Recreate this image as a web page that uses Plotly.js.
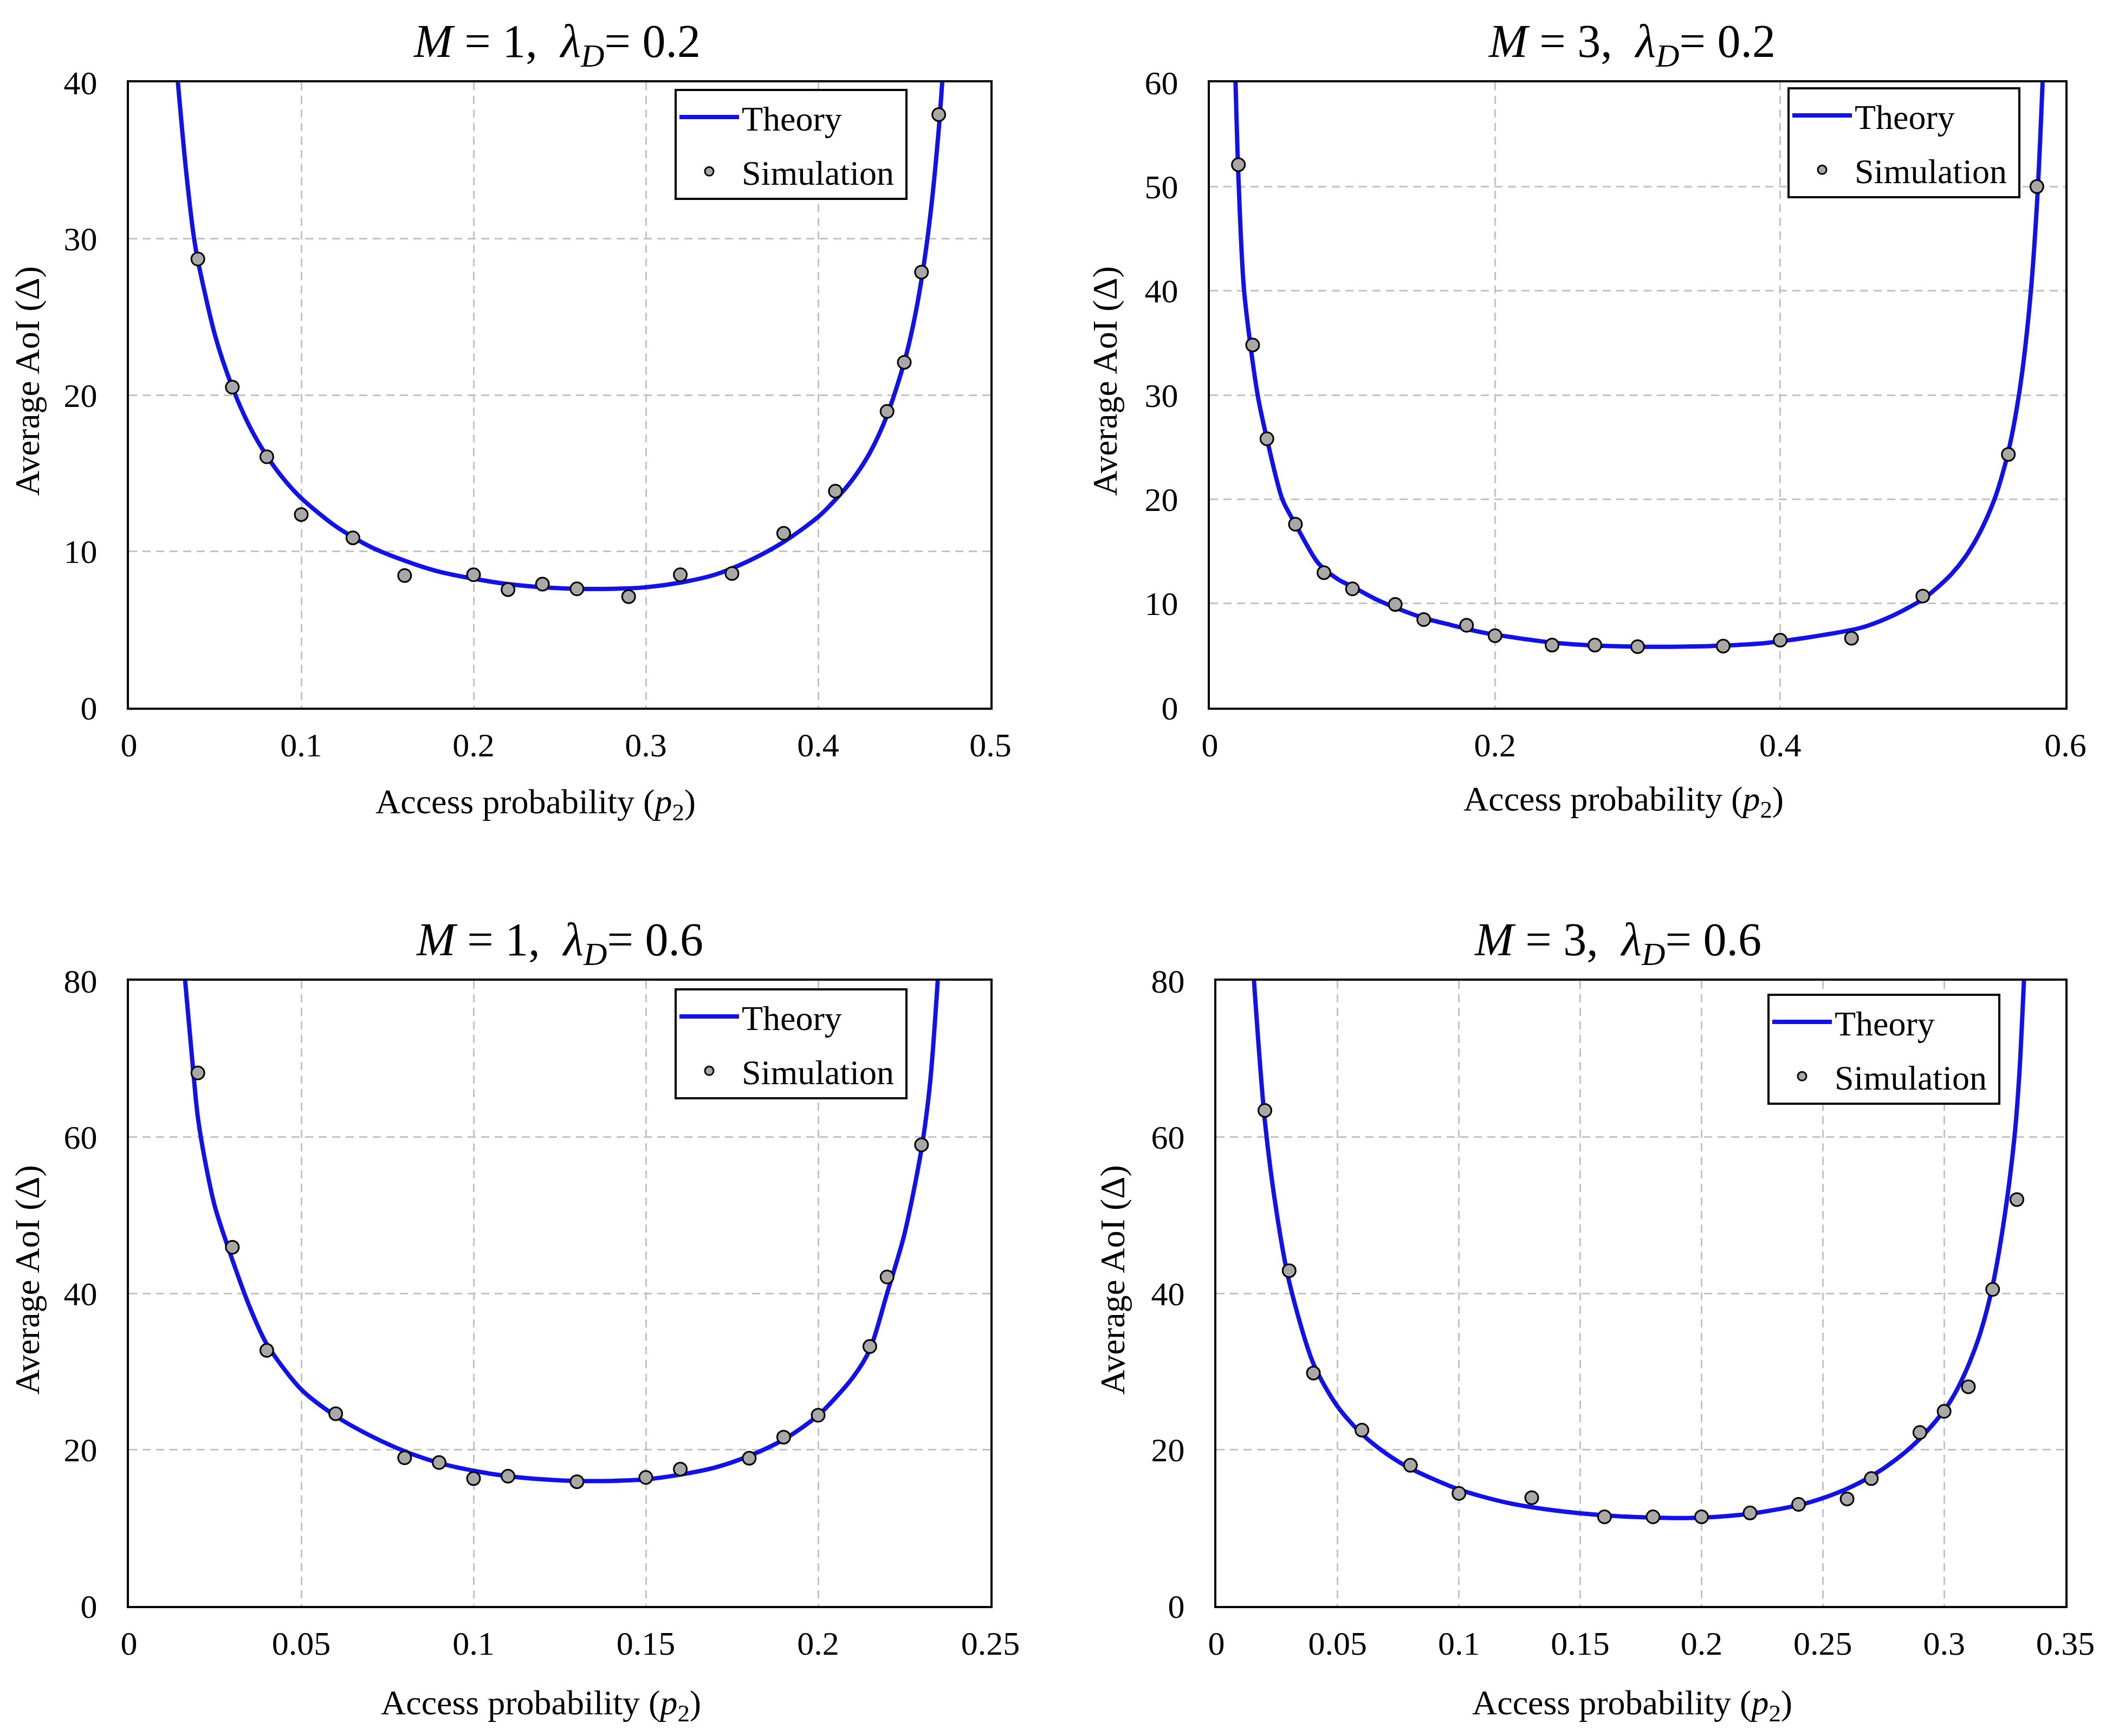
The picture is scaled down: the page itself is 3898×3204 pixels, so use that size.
<!DOCTYPE html>
<html><head><meta charset="utf-8">
<script src="https://cdn.plot.ly/plotly-3.0.1.min.js"></script>
<style>html,body{margin:0;padding:0;background:#fff}</style>
</head><body><div id="chart" style="width:3898px;height:3204px"></div>
<script>
// ---------- Data ----------
// Panel A: M = 1, lambda_D = 0.2
const theoryA_x = [0.0284,0.0331,0.0378,0.04,0.05,0.06,0.07,0.08,0.09,0.10,0.12,0.14,0.16,0.18,0.20,0.22,0.24,0.26,0.28,0.30,0.32,0.34,0.36,0.38,0.40,0.41,0.42,0.43,0.44,0.45,0.455,0.46,0.465,0.47,0.472];
const theoryA_y = [40,34.4,30,28.6,23.8,20.5,18.0,16.1,14.6,13.4,11.6,10.3,9.4,8.7,8.25,7.9,7.7,7.6,7.6,7.7,8.0,8.5,9.4,10.6,12.2,13.3,14.6,16.3,18.7,22.1,24.4,27.4,31.4,37.0,40];
const simA_x = [0.04,0.06,0.08,0.10,0.13,0.16,0.20,0.22,0.24,0.26,0.29,0.32,0.35,0.38,0.41,0.44,0.45,0.46,0.47];
const simA_y = [28.7,20.5,16.05,12.35,10.86,8.45,8.5,7.55,7.9,7.6,7.1,8.5,8.58,11.15,13.85,18.95,22.09,27.86,37.94];

// Panel B: M = 3, lambda_D = 0.2
const theoryB_x = [0.018,0.02,0.024,0.0335,0.04,0.0508,0.06,0.0761,0.09,0.10,0.115,0.13,0.15,0.17,0.19,0.21,0.24,0.27,0.30,0.33,0.36,0.39,0.42,0.45,0.46,0.48,0.50,0.51,0.52,0.53,0.54,0.55,0.555,0.56,0.565,0.57,0.5758,0.5805,0.584];
const theoryB_y = [60,51,40,30,25.8,20,17.6,13.85,12.3,11.6,10.5,9.6,8.6,7.9,7.25,6.8,6.25,5.95,5.85,5.85,5.95,6.2,6.75,7.45,7.8,8.9,10.4,11.5,12.8,14.5,16.8,19.9,22,24.6,28,32.5,40,49.4,60];
const simB_x = [0.02,0.03,0.04,0.06,0.08,0.10,0.13,0.15,0.18,0.20,0.24,0.27,0.30,0.36,0.40,0.45,0.50,0.56,0.58];
const simB_y = [52.1,34.8,25.8,17.6,12.95,11.4,9.9,8.45,7.9,6.9,6.0,6.0,5.85,5.9,6.47,6.66,10.7,24.3,50.0];

// Panel C: M = 1, lambda_D = 0.6
const theoryC_x = [0.0163,0.0187,0.02,0.0225,0.025,0.03,0.035,0.04,0.05,0.06,0.07,0.08,0.09,0.10,0.11,0.12,0.13,0.14,0.15,0.16,0.17,0.18,0.19,0.20,0.21,0.215,0.22,0.225,0.23,0.2325,0.2347];
const theoryC_y = [80,68.2,62.5,56,51,44.3,38.3,33.5,27.7,24.3,21.8,19.8,18.3,17.3,16.6,16.2,16.0,16.0,16.2,16.8,17.7,19.2,21.3,24.4,29.2,32.8,40.0,47.5,58.5,67.0,80];
const simC_x = [0.02,0.03,0.04,0.06,0.08,0.09,0.10,0.11,0.13,0.15,0.16,0.18,0.19,0.20,0.215,0.22,0.23];
const simC_y = [68.2,45.9,32.7,24.6,18.96,18.35,16.3,16.6,15.9,16.45,17.5,18.9,21.6,24.4,33.2,42.1,59.0];

// Panel D: M = 3, lambda_D = 0.6
const theoryD_x = [0.0155,0.02,0.025,0.03,0.04,0.05,0.06,0.07,0.08,0.10,0.12,0.14,0.16,0.18,0.20,0.22,0.24,0.25,0.26,0.27,0.28,0.29,0.30,0.305,0.31,0.315,0.32,0.325,0.329,0.331,0.3329];
const theoryD_y = [80,62,50,41.5,31,25.5,22,19.5,17.6,14.9,13.2,12.2,11.6,11.3,11.3,11.8,12.9,13.8,15.0,16.6,18.7,21.4,25,27.5,30.8,35,41,50,60,68,80];
const simD_x = [0.02,0.03,0.04,0.06,0.08,0.10,0.13,0.16,0.18,0.20,0.22,0.24,0.26,0.27,0.29,0.30,0.31,0.32,0.33];
const simD_y = [63.4,42.9,29.8,22.5,18.0,14.4,13.85,11.4,11.4,11.4,11.9,13.0,13.7,16.3,22.2,24.9,28.05,40.5,52.0];

const panelTitles = ['<i>M</i> = 1,\u00a0 <i>λ</i><sub><i>D</i></sub>= 0.2','<i>M</i> = 3,\u00a0 <i>λ</i><sub><i>D</i></sub>= 0.2','<i>M</i> = 1,\u00a0 <i>λ</i><sub><i>D</i></sub>= 0.6','<i>M</i> = 3,\u00a0 <i>λ</i><sub><i>D</i></sub>= 0.6'];
const xTitle = 'Access probability (<i>p</i><sub>2</sub>)';
const yTitle = 'Average AoI (Δ)';
const names = ['Theory','Simulation\u00a0'];

// ---------- Layout ----------
const W = 3898, H = 3204;
const F = '"Liberation Serif","Times New Roman",serif';
const px = v => v / W, py = v => 1 - v / H;

const panels = [
  {tx: theoryA_x, ty: theoryA_y, sx: simA_x, sy: simA_y, xr:[0,0.5], xd:0.1, yr:[0,40], yd:10,
   L:238, R:1828, T:152, B:1306, tcx:1027, tcy:82, xtx:988, xty:1484, ytx:50, yty:703, lg:[1245,164]},
  {tx: theoryB_x, ty: theoryB_y, sx: simB_x, sy: simB_y, xr:[0,0.6], xd:0.2, yr:[0,60], yd:10,
   L:2233, R:3812, T:152, B:1306, tcx:3011, tcy:82, xtx:2996, xty:1479, ytx:2039, yty:703, lg:[3299,161]},
  {tx: theoryC_x, ty: theoryC_y, sx: simC_x, sy: simC_y, xr:[0,0.25], xd:0.05, yr:[0,80], yd:20,
   L:238, R:1828, T:1810, B:2964, tcx:1032, tcy:1740, xtx:998, xty:3147, ytx:50, yty:2362, lg:[1245,1824]},
  {tx: theoryD_x, ty: theoryD_y, sx: simD_x, sy: simD_y, xr:[0,0.35], xd:0.05, yr:[0,80], yd:20,
   L:2245, R:3812, T:1810, B:2964, tcx:2985, tcy:1740, xtx:3012, xty:3147, ytx:2053, yty:2362, lg:[3262,1834]}
];

const layout = {
  width: W, height: H, margin: {l:0, r:0, t:0, b:0},
  paper_bgcolor: '#fff', plot_bgcolor: '#fff',
  font: {family: F, color: '#000', size: 60},
  annotations: [], showlegend: true
};
const data = [];

panels.forEach((p, i) => {
  const n = i + 1;
  const xa = 'xaxis' + (n === 1 ? '' : n), ya = 'yaxis' + (n === 1 ? '' : n);
  const xs = 'x' + (n === 1 ? '' : n), ys = 'y' + (n === 1 ? '' : n);
  const lgName = 'legend' + (n === 1 ? '' : n);
  const common = {
    showline: true, linecolor: '#000', linewidth: 4, mirror: true,
    showgrid: true, gridcolor: '#c3c3c3', gridwidth: 3, griddash: '15px,10px',
    zeroline: false, ticks: '', tick0: 0, fixedrange: true,
    tickfont: {family: F, size: 62, color: '#000'}
  };
  layout[xa] = Object.assign({}, common, {range: p.xr, dtick: p.xd, domain: [px(p.L), px(p.R)], anchor: ys, ticklabelstandoff: 12});
  layout[ya] = Object.assign({}, common, {range: p.yr, dtick: p.yd, domain: [py(p.B), py(p.T)], anchor: xs, ticklabelstandoff: 42});
  layout[lgName] = {
    x: px(p.lg[0]), y: py(p.lg[1]), xanchor: 'left', yanchor: 'top',
    xref: 'paper', yref: 'paper',
    bgcolor: '#fff', bordercolor: '#000', borderwidth: 4,
    font: {family: F, size: 64, color: '#000'},
    tracegroupgap: 14, itemwidth: 110
  };
  data.push({
    type: 'scatter', mode: 'lines', x: p.tx, y: p.ty, xaxis: xs, yaxis: ys,
    name: names[0], legend: lgName, legendgroup: 'th' + n,
    line: {color: '#1212e8', width: 8, shape: 'spline', smoothing: 0.8},
    cliponaxis: true, hoverinfo: 'skip'
  });
  data.push({
    type: 'scatter', mode: 'markers', x: p.sx, y: p.sy, xaxis: xs, yaxis: ys,
    name: names[1], legend: lgName, legendgroup: 'sim' + n,
    marker: {color: '#aaa7a7', size: 24, line: {color: '#000', width: 3}},
    cliponaxis: false, hoverinfo: 'skip'
  });
  layout.annotations.push({xref:'paper', yref:'paper', x: px(p.tcx), y: py(p.tcy), xanchor:'center', yanchor:'middle',
    text: panelTitles[i], showarrow:false, font:{family:F, size:86, color:'#000'}});
  layout.annotations.push({xref:'paper', yref:'paper', x: px(p.xtx), y: py(p.xty), xanchor:'center', yanchor:'middle',
    text: xTitle, showarrow:false, font:{family:F, size:64, color:'#000'}});
  layout.annotations.push({xref:'paper', yref:'paper', x: px(p.ytx), y: py(p.yty), xanchor:'center', yanchor:'middle',
    text: yTitle, textangle:-90, showarrow:false, font:{family:F, size:64, color:'#000'}});
});

Plotly.newPlot('chart', data, layout, {staticPlot: true, displayModeBar: false});
</script></body></html>
